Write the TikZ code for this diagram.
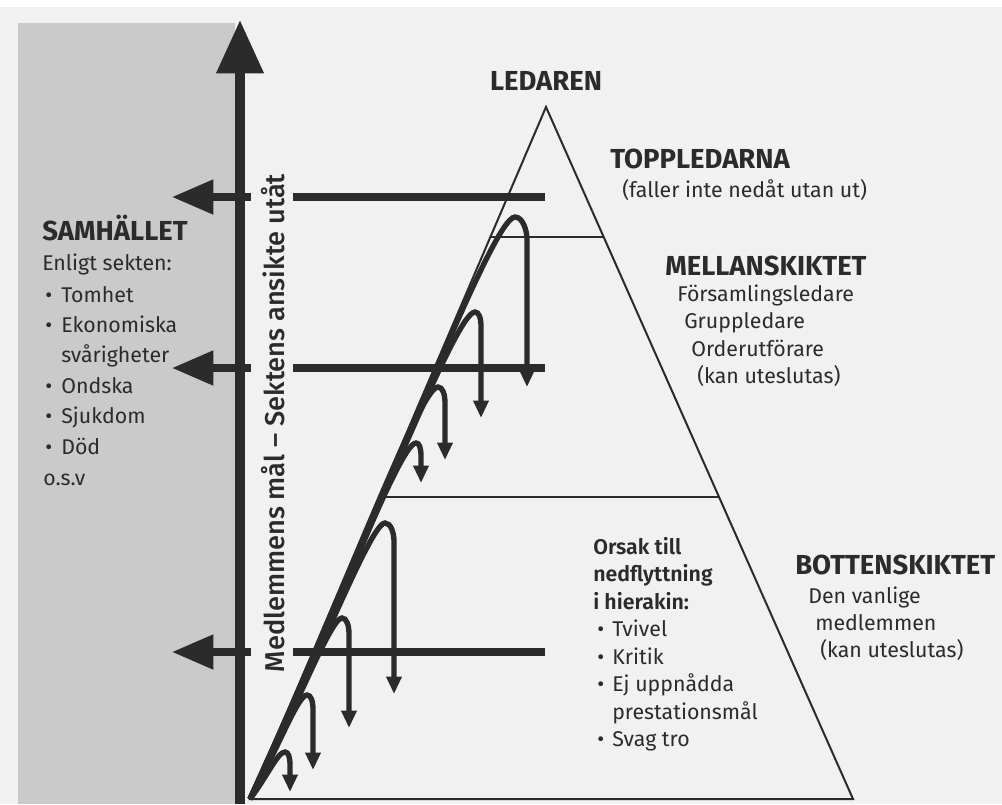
\documentclass[tikz,border=0pt]{standalone}
\usepackage{fontspec}
\setmainfont{Fira Sans}
\IfFontExistsTF{Fira Sans Medium}{\newfontfamily\axisfont{Fira Sans Medium}}{\newfontfamily\axisfont{Fira Sans}}
\IfFontExistsTF{Fira Sans SemiBold}{\newfontfamily\semifont{Fira Sans SemiBold}}{\newfontfamily\semifont{Fira Sans}[UprightFont=*  Bold]}
\usetikzlibrary{arrows.meta}
\definecolor{ink}{HTML}{2B2B2B}
\definecolor{panel}{HTML}{CACACA}
\definecolor{page}{HTML}{F1F1F1}
\newcommand\bul{\makebox[12pt][l]{•}}
\newcommand\bulr{\makebox[11.25pt][l]{•}}
\newcommand\hookarr[4]{%
  \pgfmathsetmacro\hH{800-#2}%
  \pgfmathsetmacro\hax{250+0.5*(#1-250)}%
  \pgfmathsetmacro\hay{800-0.5*\hH}%
  \pgfmathsetmacro\hbx{#1-0.03*\hH-6}%
  \draw[hookline] (bl) .. controls (\hax,\hay) and (\hbx,#2) .. (#1,#2)
    .. controls +({0.65*(#3-#1)},0) and +(0,-9) .. (#3,{#2+1.3*(#3-#1)+7}) -- (#3,#4);
}
\begin{document}
\begin{tikzpicture}[x=0.75pt,y=-0.75pt,
  txt/.style={anchor=base west, inner sep=0, text=ink, font=\fontsize{16}{19}\selectfont},
  sub/.style={anchor=base west, inner sep=0, text=ink, font=\fontsize{16}{19}\selectfont\semifont},
  head/.style={anchor=base west, inner sep=0, text=ink, font=\fontsize{20.6}{24}\selectfont\bfseries},
  thinline/.style={draw=ink, line width=1.5pt},
  bar/.style={draw=ink, line width=5.3pt},
  hookline/.style={draw=ink, line width=4pt, -{Triangle[width=11pt,length=13pt]}},
]
\useasboundingbox (0,0) rectangle (1002,804);
\fill[page] (0,0) rectangle (1002,804);
\fill[white] (0,0) rectangle (1002,7);
\fill[panel] (18,23) rectangle (235,804);

% pyramid
\coordinate (apex) at (546,107);
\coordinate (bl) at (250,799);
\coordinate (br) at (853,799);
\draw[thinline, line join=miter] (bl) -- (apex) -- (br) -- cycle;
\coordinate (t1l) at (490.5,237); \coordinate (t1r) at (603.7,237);
\coordinate (t2l) at (379.4,497); \coordinate (t2r) at (719,497);
\draw[thinline] (t1l) -- (t1r);
\draw[thinline] (t2l) -- (t2r);

% vertical axis arrow
\coordinate (vbot) at (240,804);
\coordinate (vtop) at (240,20);
\draw[ink, line width=7pt, -{Triangle[width=34pt,length=40pt]}] (vbot) -- (vtop);

% horizontal arrows
\foreach \yy/\nm in {197/a,368/b,652/c}{
  \coordinate (hs\nm) at (251,\yy);
  \coordinate (ht\nm) at (172,\yy);
  \coordinate (rs\nm) at (293,\yy);
  \coordinate (re\nm) at (545,\yy);
  \draw[bar, -{Triangle[width=25pt,length=31pt]}] (hs\nm) -- (ht\nm);
  \draw[bar] (rs\nm) -- (re\nm);
}

% hook arrows
\hookarr{515}{217}{527}{387}
\hookarr{475}{312}{481}{418}
\hookarr{438}{387}{445}{460}
\hookarr{416}{443}{421}{483}
\hookarr{385}{523}{394}{694}
\hookarr{342}{618}{349}{728}
\hookarr{307}{695}{313}{770}
\hookarr{285}{752}{290}{792}

% axis text
\node[rotate=90, anchor=base, inner sep=0, text=ink, font=\fontsize{20.4}{24}\selectfont\axisfont] (axis) at (284,423) {Medlemmens mål – Sektens ansikte utåt};

% left panel
\node[head] (samh) at (42,240) {SAMHÄLLET};
\node[txt] (enl) at (42,270) {Enligt sekten:};
\node[txt] (l1) at (45,302) {\bul Tomhet};
\node[txt] (l2) at (45,332) {\bul Ekonomiska};
\node[txt] (l2b) at (61,362) {svårigheter};
\node[txt] (l3) at (45,393) {\bul Ondska};
\node[txt] (l4) at (45,423) {\bul Sjukdom};
\node[txt] (l5) at (45,454) {\bul Död};
\node[txt] (osv) at (43,485) {o.s.v};

% pyramid labels
\node[head, anchor=base] (led) at (546,90) {LEDAREN};
\node[head] (top) at (610,168) {TOPPLEDARNA};
\node[txt] (fall) at (622,197) {(faller inte nedåt utan ut)};
\node[head] (mel) at (665,275) {MELLANSKIKTET};
\node[txt] (m1) at (677,301) {Församlingsledare};
\node[txt] (m2) at (684,328.5) {Gruppledare};
\node[txt] (m3) at (691,356) {Orderutförare};
\node[txt] (m4) at (697,383) {(kan uteslutas)};
\node[head] (bot) at (795,574) {BOTTENSKIKTET};
\node[txt] (b1) at (808,603) {Den vanlige};
\node[txt] (b2) at (815,630) {medlemmen};
\node[txt] (b3) at (820,657) {(kan uteslutas)};
\node[sub] (o1) at (593,554) {Orsak till};
\node[sub] (o2) at (593,581.5) {nedflyttning};
\node[sub] (o3) at (593,609) {i hierakin:};
\node[txt] (o4) at (597,636.5) {\bulr Tvivel};
\node[txt] (o5) at (597,664) {\bulr Kritik};
\node[txt] (o6) at (597,691.5) {\bulr Ej uppnådda};
\node[txt] (o7) at (612,719) {prestationsmål};
\node[txt] (o8) at (597,746.5) {\bulr Svag tro};
\end{tikzpicture}
\end{document}
